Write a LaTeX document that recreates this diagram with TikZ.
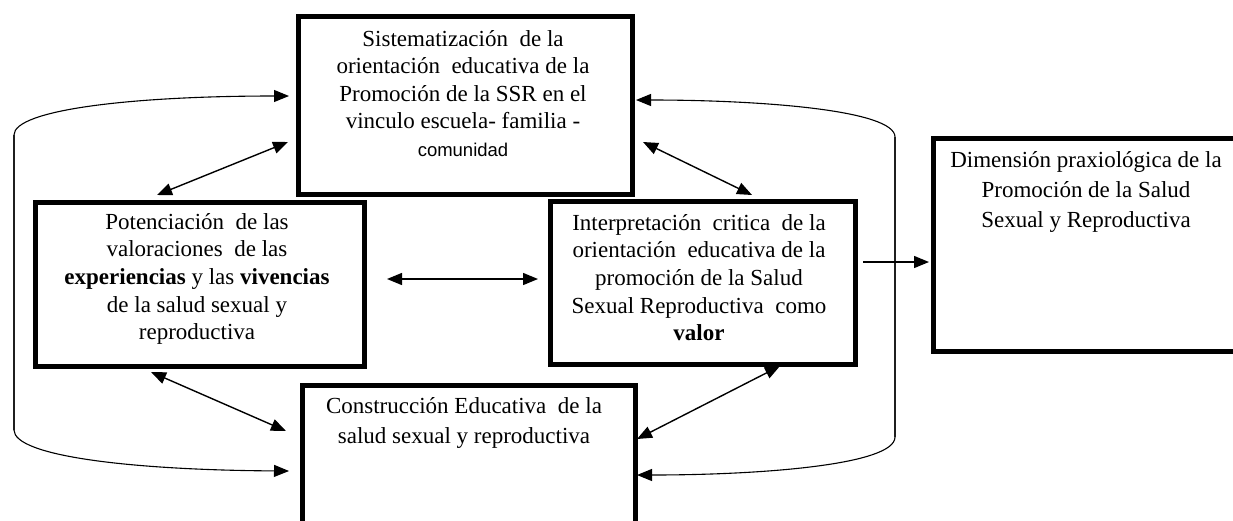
\documentclass[tikz,border=0pt]{standalone}
\usepackage{fontspec}
\setmainfont{Liberation Serif}
\newfontfamily\sansf{Liberation Sans}
\usetikzlibrary{arrows.meta}
\begin{document}
\begin{tikzpicture}[x=1pt,y=-1pt,
  box/.style={draw,line width=4.5pt,inner sep=0pt,anchor=north west,fill=white},
  txt/.style={inner sep=0pt,align=center,anchor=north,font=\fontsize{23}{27.6}\selectfont},
  txtb/.style={txt,font=\fontsize{23}{30}\selectfont},
  conn/.style={line width=1.4pt,-{Triangle[length=15pt,width=12pt]}},
  dconn/.style={line width=1.4pt,{Triangle[length=15pt,width=12pt]}-{Triangle[length=15pt,width=12pt]}},
  loop/.style={line width=1.1pt,-{Triangle[length=15pt,width=12pt]}}]
\useasboundingbox (0,0) rectangle (1233,520);
\clip (0,0) rectangle (1233,520);
\fill[white] (0,0) rectangle (1233,520);

% boxes
\node[box,minimum width=334pt,minimum height=178pt] (sis) at (296,14) {};
\node[box,minimum width=329pt,minimum height=164pt] (pot) at (33,200) {};
\node[box,minimum width=305pt,minimum height=163pt] (int) at (548,199) {};
\node[box,minimum width=330pt,minimum height=213pt] (dim) at (931,136) {};
\node[box,minimum width=333pt,minimum height=160pt] (con) at (300,383) {};

% texts
\node[txt] (sist) at (463,30) {Sistematización~ de la\\ orientación~ educativa de la\\ Promoción de la SSR en el\\ vinculo escuela- familia -\\ {\sansf\fontsize{18.5}{27.6}\selectfont comunidad}};
\node[txt] (pott) at (197,213) {Potenciación~ de las\\ valoraciones~ de las\\ \textbf{experiencias} y las \textbf{vivencias}\\ de la salud sexual y\\ reproductiva};
\node[txt] (intt) at (699,214) {Interpretación~ critica~ de la\\ orientación~ educativa de la\\ promoción de la Salud\\ Sexual Reproductiva~ como\\ \textbf{valor}};
\node[txtb] (dimt) at (1086,151) {Dimensión praxiológica de la\\ Promoción de la Salud\\ Sexual y Reproductiva};
\node[txtb] (cont) at (464,397) {Construcción Educativa~ de la\\ salud sexual y reproductiva};

% connector end points
\coordinate (a1) at (157,195); \coordinate (a2) at (288,142);
\coordinate (b1) at (643,142); \coordinate (b2) at (752,195);
\coordinate (c1) at (387,279); \coordinate (c2) at (538,279);
\coordinate (d1) at (151,372); \coordinate (d2) at (286,431);
\coordinate (e1) at (780,366); \coordinate (e2) at (637,439);
\coordinate (f1) at (863,262); \coordinate (f2) at (929,262);

\draw[dconn] (a1) -- (a2);
\draw[dconn] (b1) -- (b2);
\draw[dconn] (c1) -- (c2);
\draw[dconn] (d1) -- (d2);
\draw[dconn] (e1) -- (e2);
\draw[conn] (f1) -- (f2);

% loops
\coordinate (lt) at (14,135); \coordinate (lb) at (14,430);
\coordinate (lta) at (289,96); \coordinate (lba) at (289,471);
\coordinate (rt) at (895,137); \coordinate (rb) at (895,437);
\coordinate (rta) at (636,100); \coordinate (rba) at (637,475);
\draw[loop] (lb) -- (lt) .. controls (14,110) and (130,96) .. (lta);
\draw[loop] (lt) -- (lb) .. controls (14,456) and (130,470) .. (lba);
\draw[loop] (rb) -- (rt) .. controls (895,110) and (760,100) .. (rta);
\draw[loop] (rt) -- (rb) .. controls (895,465) and (760,475) .. (rba);
\end{tikzpicture}
\end{document}
